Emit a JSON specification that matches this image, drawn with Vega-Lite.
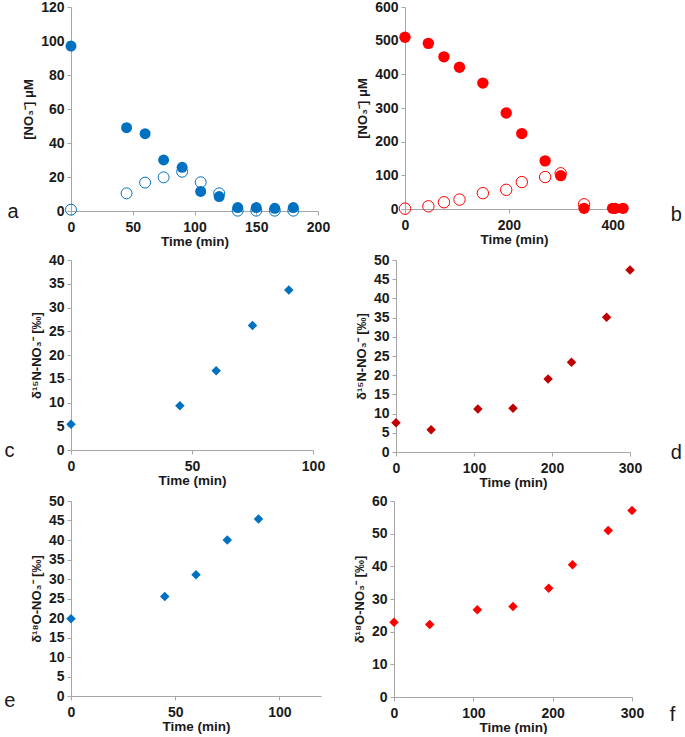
{
  "$schema": "https://vega.github.io/schema/vega-lite/v6.json",
  "padding": {"left": 4, "top": 0, "right": 0, "bottom": 0},
  "background": "white",
  "datasets": {
    "a": [
      {"t": 0, "no3": 0.8, "kind": "open"},
      {"t": 45, "no3": 10.4, "kind": "open"},
      {"t": 60, "no3": 16.7, "kind": "open"},
      {"t": 75, "no3": 19.8, "kind": "open"},
      {"t": 90, "no3": 23.1, "kind": "open"},
      {"t": 105, "no3": 16.9, "kind": "open"},
      {"t": 120, "no3": 10.4, "kind": "open"},
      {"t": 135, "no3": 0.2, "kind": "open"},
      {"t": 150, "no3": 0.2, "kind": "open"},
      {"t": 165, "no3": 0.2, "kind": "open"},
      {"t": 180, "no3": 0.2, "kind": "open"},
      {"t": 0, "no3": 97, "kind": "filled"},
      {"t": 45, "no3": 49, "kind": "filled"},
      {"t": 60, "no3": 45.5, "kind": "filled"},
      {"t": 75, "no3": 30, "kind": "filled"},
      {"t": 90, "no3": 25.7, "kind": "filled"},
      {"t": 105, "no3": 11.5, "kind": "filled"},
      {"t": 120, "no3": 8.5, "kind": "filled"},
      {"t": 135, "no3": 2, "kind": "filled"},
      {"t": 150, "no3": 2, "kind": "filled"},
      {"t": 165, "no3": 1.6, "kind": "filled"},
      {"t": 180, "no3": 2, "kind": "filled"}
    ],
    "b": [
      {"t": 0, "no3": 1, "kind": "open"},
      {"t": 45, "no3": 8, "kind": "open"},
      {"t": 75, "no3": 20, "kind": "open"},
      {"t": 105, "no3": 28, "kind": "open"},
      {"t": 150, "no3": 47, "kind": "open"},
      {"t": 195, "no3": 57, "kind": "open"},
      {"t": 225, "no3": 80, "kind": "open"},
      {"t": 270, "no3": 95, "kind": "open"},
      {"t": 300, "no3": 106, "kind": "open"},
      {"t": 345, "no3": 14, "kind": "open"},
      {"t": 0, "no3": 510, "kind": "filled"},
      {"t": 45, "no3": 492, "kind": "filled"},
      {"t": 75, "no3": 452, "kind": "filled"},
      {"t": 105, "no3": 421, "kind": "filled"},
      {"t": 150, "no3": 374, "kind": "filled"},
      {"t": 195, "no3": 285, "kind": "filled"},
      {"t": 225, "no3": 224, "kind": "filled"},
      {"t": 270, "no3": 143, "kind": "filled"},
      {"t": 300, "no3": 99, "kind": "filled"},
      {"t": 345, "no3": 2, "kind": "filled"},
      {"t": 400, "no3": 2, "kind": "filled"},
      {"t": 405, "no3": 2, "kind": "filled"},
      {"t": 420, "no3": 2, "kind": "filled"}
    ],
    "c": [
      {"t": 0, "d": 5.4},
      {"t": 45, "d": 9.3},
      {"t": 60, "d": 16.7},
      {"t": 75, "d": 26.2},
      {"t": 90, "d": 33.7}
    ],
    "d": [
      {"t": 0, "d": 7.6},
      {"t": 45, "d": 5.8},
      {"t": 105, "d": 11.2},
      {"t": 150, "d": 11.4},
      {"t": 195, "d": 19.0},
      {"t": 225, "d": 23.4},
      {"t": 270, "d": 35.1},
      {"t": 300, "d": 47.4}
    ],
    "e": [
      {"t": 0, "d": 19.8},
      {"t": 45, "d": 25.5},
      {"t": 60, "d": 31.1},
      {"t": 75, "d": 40.0},
      {"t": 90, "d": 45.4}
    ],
    "f": [
      {"t": 0, "d": 22.9},
      {"t": 45, "d": 22.2},
      {"t": 105, "d": 26.7},
      {"t": 150, "d": 27.7},
      {"t": 195, "d": 33.3},
      {"t": 225, "d": 40.5},
      {"t": 270, "d": 51.0},
      {"t": 300, "d": 57.1}
    ]
  },
  "config": {
    "view": {"stroke": null},
    "font": "Liberation Sans",
    "axis": {
      "grid": false,
      "labelFlush": false,
      "domainColor": "#a6a6a6",
      "tickColor": "#a6a6a6",
      "tickSize": 4,
      "labelFont": "Liberation Sans",
      "labelFontSize": 14,
      "labelFontWeight": "bold",
      "labelColor": "#1a1a1a",
      "titleFont": "Liberation Sans",
      "titleFontSize": 13,
      "titleFontWeight": "bold",
      "titleColor": "#1a1a1a"
    },
    "axisX": {"labelPadding": 5, "titlePadding": 0, "titleFontSize": 13.5},
    "axisY": {"labelPadding": 3, "titlePadding": 5},
    "title": {"font": "Liberation Sans", "fontSize": 20, "fontWeight": "normal", "color": "#1a1a1a", "frame": "group", "baseline": "middle"}
  },
  "spacing": 5,
  "vconcat": [
    {
      "spacing": 26,
      "hconcat": [
        {
          "width": 247, "height": 204,
          "title": {"text": "a", "orient": "left", "angle": 0, "anchor": "start", "offset": 4, "dy": -9},
          "data": {"name": "a"},
          "encoding": {
            "x": {"field": "t", "type": "quantitative", "scale": {"domain": [0, 200]}, "axis": {"title": "Time (min)", "values": [0, 50, 100, 150, 200]}},
            "y": {"field": "no3", "type": "quantitative", "scale": {"domain": [0, 120]}, "axis": {"title": "[NO₃⁻] μM", "values": [0, 20, 40, 60, 80, 100, 120]}}
          },
          "layer": [
            {"transform": [{"filter": "datum.kind === 'open'"}], "mark": {"type": "point", "shape": "circle", "filled": false, "size": 120, "color": "#0070C0", "strokeWidth": 1, "opacity": 1}},
            {"transform": [{"filter": "datum.kind === 'filled'"}], "mark": {"type": "point", "shape": "circle", "filled": true, "size": 120, "color": "#0070C0", "opacity": 1}}
          ]
        },
        {
          "width": 218, "height": 202,
          "title": {"text": "b", "orient": "right", "angle": 0, "anchor": "end", "offset": 42, "dy": -4},
          "data": {"name": "b"},
          "encoding": {
            "x": {"field": "t", "type": "quantitative", "scale": {"domain": [0, 420]}, "axis": {"title": "Time (min)", "values": [0, 200, 400]}},
            "y": {"field": "no3", "type": "quantitative", "scale": {"domain": [0, 600]}, "axis": {"title": "[NO₃⁻] μM", "values": [0, 100, 200, 300, 400, 500, 600]}}
          },
          "layer": [
            {"transform": [{"filter": "datum.kind === 'filled'"}], "mark": {"type": "point", "shape": "circle", "filled": true, "size": 130, "color": "#FF0000", "opacity": 1}},
            {"transform": [{"filter": "datum.kind === 'open'"}], "mark": {"type": "point", "shape": "circle", "filled": false, "size": 130, "color": "#FF0000", "strokeWidth": 1, "opacity": 1}}
          ]
        }
      ]
    },
    {
      "spacing": 30,
      "hconcat": [
        {
          "width": 242, "height": 190,
          "title": {"text": "c", "orient": "left", "angle": 0, "anchor": "start", "offset": 16, "dy": -9},
          "data": {"name": "c"},
          "mark": {"type": "point", "shape": "diamond", "filled": true, "size": 90, "color": "#0070C0", "opacity": 1},
          "encoding": {
            "x": {"field": "t", "type": "quantitative", "scale": {"domain": [0, 100]}, "axis": {"title": "Time (min)", "values": [0, 50, 100]}},
            "y": {"field": "d", "type": "quantitative", "scale": {"domain": [0, 40]}, "axis": {"title": "δ¹⁵N-NO₃⁻ [‰]", "values": [0, 5, 10, 15, 20, 25, 30, 35, 40]}}
          }
        },
        {
          "width": 234, "height": 192,
          "title": {"text": "d", "orient": "right", "angle": 0, "anchor": "end", "offset": 29, "dy": -9},
          "data": {"name": "d"},
          "mark": {"type": "point", "shape": "diamond", "filled": true, "size": 90, "color": "#C00000", "opacity": 1},
          "encoding": {
            "x": {"field": "t", "type": "quantitative", "scale": {"domain": [0, 300]}, "axis": {"title": "Time (min)", "values": [0, 100, 200, 300]}},
            "y": {"field": "d", "type": "quantitative", "scale": {"domain": [0, 50]}, "axis": {"title": "δ¹⁵N-NO₃⁻ [‰]", "values": [0, 5, 10, 15, 20, 25, 30, 35, 40, 45, 50]}}
          }
        }
      ]
    },
    {
      "spacing": 32,
      "hconcat": [
        {
          "width": 250, "height": 195,
          "title": {"text": "e", "orient": "left", "angle": 0, "anchor": "start", "offset": 15, "dy": -5},
          "data": {"name": "e"},
          "mark": {"type": "point", "shape": "diamond", "filled": true, "size": 90, "color": "#0070C0", "opacity": 1},
          "encoding": {
            "x": {"field": "t", "type": "quantitative", "scale": {"domain": [0, 120]}, "axis": {"title": "Time (min)", "values": [0, 50, 100]}},
            "y": {"field": "d", "type": "quantitative", "scale": {"domain": [0, 50]}, "axis": {"title": "δ¹⁸O-NO₃⁻ [‰]", "values": [0, 5, 10, 15, 20, 25, 30, 35, 40, 45, 50]}}
          }
        },
        {
          "width": 238, "height": 196,
          "title": {"text": "f", "orient": "right", "angle": 0, "anchor": "end", "offset": 26, "dy": 8},
          "data": {"name": "f"},
          "mark": {"type": "point", "shape": "diamond", "filled": true, "size": 90, "color": "#FF0000", "opacity": 1},
          "encoding": {
            "x": {"field": "t", "type": "quantitative", "scale": {"domain": [0, 300]}, "axis": {"title": "Time (min)", "values": [0, 100, 200, 300]}},
            "y": {"field": "d", "type": "quantitative", "scale": {"domain": [0, 60]}, "axis": {"title": "δ¹⁸O-NO₃⁻ [‰]", "values": [0, 10, 20, 30, 40, 50, 60]}}
          }
        }
      ]
    }
  ]
}
